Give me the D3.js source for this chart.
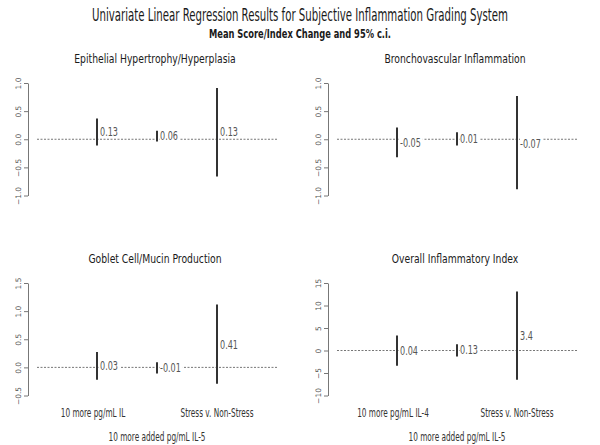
<!DOCTYPE html>
<html>
<head>
<meta charset="utf-8">
<script src="https://cdn.jsdelivr.net/npm/d3@7"></script>
<style>
  html, body { margin: 0; padding: 0; background: #fff; }
  svg text { font-family: "DejaVu Sans", sans-serif; }
</style>
</head>
<body>
<svg id="chart" width="600" height="445"></svg>
<script>
// Panel data (mean change, 95% c.i. lower/upper) for the three predictors
const panelTitles = [
  'Epithelial Hypertrophy/Hyperplasia',
  'Bronchovascular Inflammation',
  'Goblet Cell/Mucin Production',
  'Overall Inflammatory Index'
];
const meanLabels = [
  ['0.13', '0.06', '0.13'],
  ['-0.05', '0.01', '-0.07'],
  ['0.03', '-0.01', '0.41'],
  ['0.04', '0.13', '3.4']
];
const means = [
  [0.13, 0.06, 0.13],
  [-0.05, 0.01, -0.07],
  [0.03, -0.01, 0.41],
  [0.04, 0.13, 3.4]
];
const lower = [
  [-0.11, -0.04, -0.66],
  [-0.32, -0.11, -0.89],
  [-0.22, -0.11, -0.29],
  [-3.4, -1.33, -6.5]
];
const upper = [
  [0.37, 0.15, 0.91],
  [0.21, 0.125, 0.77],
  [0.275, 0.09, 1.12],
  [3.33, 1.4, 13.1]
];
const yDomains = [[-1, 1], [-1, 1], [-0.5, 1.5], [-10, 15]];
const yTicks = [
  [-1, -0.5, 0, 0.5, 1],
  [-1, -0.5, 0, 0.5, 1],
  [-0.5, 0, 0.5, 1, 1.5],
  [-10, -5, 0, 5, 10, 15]
];
const tickFormats = ['.1f', '.1f', '.1f', 'd'];
const xLabels = [
  null,
  null,
  ['10 more pg/mL IL', '10 more added pg/mL IL-5', 'Stress v. Non-Stress'],
  ['10 more pg/mL IL-4', '10 more added pg/mL IL-5', 'Stress v. Non-Stress']
];

const svg = d3.select('#chart');

// squeeze text horizontally to mimic the condensed face of the original
function squeeze(sel, k) {
  sel.each(function () {
    const w = this.getComputedTextLength();
    d3.select(this).attr('textLength', w * k).attr('lengthAdjust', 'spacingAndGlyphs');
  });
  return sel;
}

// main title: scaled with a transform so its box never spills past the page
svg.append('g')
  .attr('transform', 'translate(300,21) scale(0.6,1)')
  .append('text')
  .attr('text-anchor', 'middle')
  .attr('font-size', 17).attr('fill', '#1a1a1a')
  .text('Univariate Linear Regression Results for Subjective Inflammation Grading System');

svg.append('text')
  .attr('x', 300).attr('y', 38)
  .attr('text-anchor', 'middle')
  .attr('font-size', 13).attr('font-weight', 'bold').attr('fill', '#1a1a1a')
  .text('Mean Score/Index Change and 95% c.i.')
  .call(squeeze, 0.64);

const panelX = [0, 300, 0, 300];
const panelY = [0, 0, 200, 200];

panelTitles.forEach((title, i) => {
  const ox = panelX[i], oy = panelY[i];
  const g = svg.append('g').attr('transform', `translate(${ox},${oy})`);

  const x = d3.scaleLinear().domain([0, 4]).range([37, 277]);
  const y = d3.scaleLinear().domain(yDomains[i]).range([195.5, 83]);

  g.append('text')
    .attr('x', 155).attr('y', 63)
    .attr('text-anchor', 'middle')
    .attr('font-size', 13).attr('fill', '#1a1a1a')
    .text(title)
    .call(squeeze, 0.71);

  // y axis with rotated tick labels
  const axis = g.append('g')
    .attr('transform', 'translate(28,0)')
    .call(d3.axisLeft(y).tickValues(yTicks[i]).tickFormat(d3.format(tickFormats[i])).tickSize(4).tickSizeOuter(0));
  axis.select('.domain').attr('stroke', '#777');
  axis.selectAll('.tick line').attr('stroke', '#777');
  axis.selectAll('.tick text')
    .attr('font-size', 7.5).attr('fill', '#555')
    .attr('x', 0).attr('dy', 0)
    .attr('text-anchor', 'middle')
    .attr('transform', 'translate(-9,0) rotate(-90)')
    .attr('dominant-baseline', 'middle');

  // zero reference line
  g.append('line')
    .attr('x1', x(0)).attr('x2', x(4))
    .attr('y1', y(0)).attr('y2', y(0))
    .attr('stroke', '#777').attr('stroke-width', 1)
    .attr('stroke-dasharray', '2,1.5');

  const idx = [0, 1, 2];

  // value labels with white backing so the dotted line breaks around them
  const lab = g.selectAll('.val')
    .data(idx)
    .join('g')
    .attr('class', 'val');
  const labText = lab.append('text')
    .attr('x', j => x(j + 1) + 3)
    .attr('y', j => y(means[i][j]))
    .attr('dominant-baseline', 'central')
    .attr('font-size', 13).attr('fill', '#555')
    .text(j => meanLabels[i][j])
    .call(squeeze, 0.62);
  lab.insert('rect', 'text')
    .each(function (j) {
      const bb = labText.nodes()[j].getBBox();
      d3.select(this)
        .attr('x', bb.x).attr('y', bb.y + 2)
        .attr('width', bb.width + 2).attr('height', bb.height - 4)
        .attr('fill', '#fff');
    });

  // confidence interval bars
  g.selectAll('.ci')
    .data(idx)
    .join('line')
    .attr('class', 'ci')
    .attr('x1', j => x(j + 1)).attr('x2', j => x(j + 1))
    .attr('y1', j => y(upper[i][j])).attr('y2', j => y(lower[i][j]))
    .attr('stroke', '#333').attr('stroke-width', 2);

  if (xLabels[i]) {
    g.selectAll('.xl')
      .data(xLabels[i])
      .join('text')
      .attr('class', 'xl')
      .attr('x', (d, j) => x(j + 1) - (j === 0 ? 4 : 0))
      .attr('y', (d, j) => j === 1 ? 241 : 217)
      .attr('text-anchor', 'middle')
      .attr('font-size', 12).attr('fill', '#333')
      .text(d => d)
      .call(squeeze, 0.61);
  }
});
</script>
</body>
</html>
